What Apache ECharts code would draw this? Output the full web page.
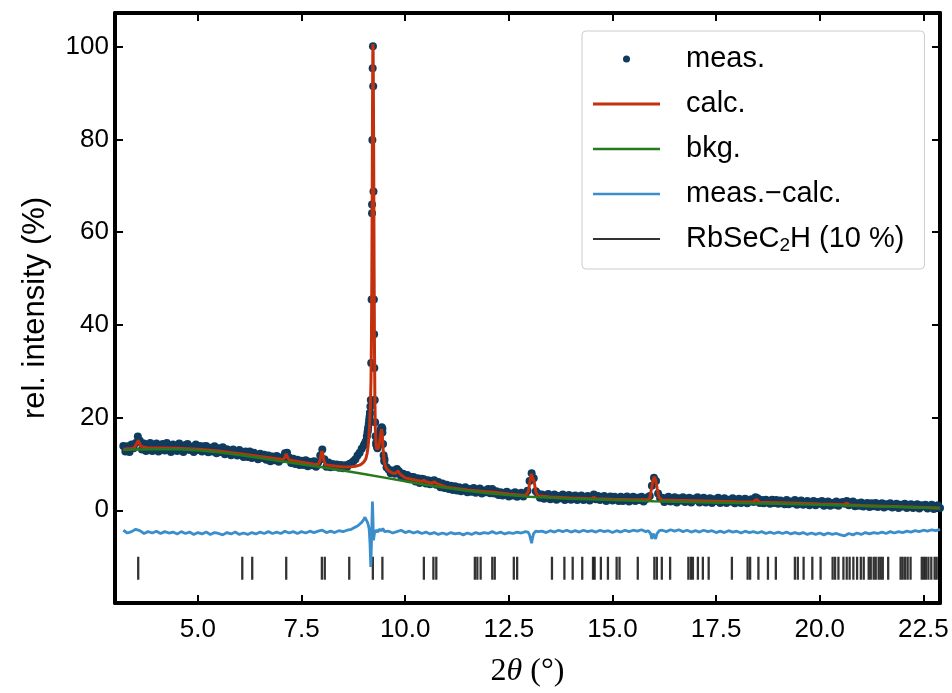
<!DOCTYPE html>
<html><head><meta charset="utf-8">
<script src="https://cdn.jsdelivr.net/npm/echarts@6/dist/echarts.min.js"></script>
<style>html,body{margin:0;padding:0;background:#fff}#c{width:952px;height:693px}</style>
</head><body><div id="c"></div>
<script>
// ---- measured profile: regular grid 3.20 .. 22.90 step 0.05 ----
const measStart = 3.2, measStep = 0.05;
const measY = [
 13.9,12.7,13.8,12.6,14.2,13.4,14.5,15.9,15.0,13.1,14.4,12.8,14.1,14.5,12.8,13.8,14.4,12.7,13.9,14.3,
 12.9,14.5,13.5,12.6,14.2,13.8,12.8,14.4,13.4,12.6,14.1,14.3,13.0,13.7,12.6,14.2,13.0,13.9,12.7,13.8,
 13.9,12.5,13.5,12.7,13.8,12.3,13.4,12.6,13.6,12.1,13.2,12.5,11.9,13.1,12.4,11.8,13.0,12.1,11.5,12.7,
 11.5,12.7,11.3,12.4,11.9,11.0,12.2,11.3,12.0,10.9,11.8,10.6,11.6,10.8,11.7,10.5,11.4,11.0,12.3,12.4,
 11.4,10.2,11.1,10.0,10.9,9.8,10.7,9.8,10.8,9.5,10.5,9.7,10.6,9.4,10.3,11.8,13.1,11.0,9.4,10.3,
 9.3,10.0,9.4,9.9,9.2,9.8,9.1,9.7,9.4,10.0,10.2,10.6,11.0,11.8,12.4,13.3,14.0,14.9,17.2,21.0,
 66.0,38.0,14.2,14.4,16.6,17.6,11.0,9.3,8.8,8.0,8.6,7.9,8.9,8.4,7.4,7.9,7.0,7.6,6.7,7.2,
 7.2,6.2,6.9,5.9,6.8,6.7,5.8,6.5,5.6,6.4,6.5,5.5,6.1,5.0,5.8,4.8,5.5,4.6,5.3,4.4,
 5.2,4.3,5.0,4.1,4.7,5.0,3.9,4.6,4.0,4.8,3.8,4.4,4.7,3.6,4.3,3.9,4.6,3.7,4.6,3.6,
 4.1,3.3,3.9,3.2,3.7,4.0,3.0,3.6,3.2,3.9,2.9,3.5,3.8,3.0,3.5,4.2,6.3,8.0,6.9,4.1,
 3.6,2.7,3.4,2.5,3.0,3.5,2.4,2.9,3.4,2.3,3.1,2.6,3.4,2.2,2.8,3.3,2.3,3.0,3.2,2.2,
 2.9,3.2,2.2,2.7,3.1,2.1,2.9,3.4,2.4,3.1,2.2,2.8,3.1,2.0,2.6,3.0,2.1,2.9,2.4,2.0,
 2.9,2.0,2.6,3.0,1.9,2.5,2.9,2.0,2.7,2.2,2.9,1.9,2.4,2.8,3.1,5.3,7.0,6.3,3.6,2.6,
 2.7,1.8,2.5,2.9,1.9,2.3,2.8,1.7,2.6,2.1,2.8,1.8,2.3,2.7,1.7,2.5,2.2,2.8,1.7,2.4,
 2.7,1.7,2.2,2.6,1.6,2.4,2.0,2.7,1.6,2.2,2.6,1.6,2.3,1.9,2.6,1.5,2.1,2.5,1.6,2.3,
 2.5,1.5,2.1,2.4,1.8,2.8,2.6,1.6,2.2,1.5,2.3,1.9,1.4,2.3,1.6,2.2,1.4,2.1,1.7,1.3,
 2.2,1.3,1.9,1.5,2.2,1.2,1.8,2.1,1.2,1.7,2.0,1.1,1.6,2.0,1.1,1.8,1.4,2.0,1.0,1.7,
 1.9,1.0,1.6,1.2,1.9,1.0,1.5,1.8,1.4,2.0,1.1,1.6,1.9,0.9,1.5,1.0,1.7,0.8,1.4,1.6,
 0.7,1.5,0.9,1.6,0.7,1.2,1.5,0.6,1.3,0.9,1.5,0.6,1.1,1.4,0.5,1.2,0.8,1.4,0.5,1.1,
 1.3,0.5,1.0,1.3,0.4,1.1,0.8,1.2,0.4,0.9,1.2,0.3,0.9,1.1,0.5
];
// extra measured points read around the strong reflections at 9.2-9.5
const measFineX = [9.025,9.075,9.09,9.105,9.12,9.13,9.14,9.15,9.16,9.17,9.18,9.19,9.20,9.208,9.215,9.222,9.228,9.235,9.245,9.255,9.265,9.275,9.285,9.30,9.315,9.33,9.345,9.36,9.375,9.39,9.405,9.42,9.435,9.45,9.465,9.48,9.495];
const measFineY = [14.4,16.0,16.8,17.8,18.6,19.5,20.2,21.0,22.4,23.8,31.8,45.5,64.1,79.9,95.4,100.1,91.5,68.8,45.5,30.7,23.8,19.0,16.0,14.6,13.8,13.4,14.0,14.6,15.5,16.4,17.2,17.7,17.9,16.8,14.3,11.9,10.6];

// ---- calculated profile ----
const calcX = [3.20,3.30,3.40,3.46,3.50,3.53,3.56,3.59,3.62,3.66,3.80,4.00,4.50,5.00,5.50,6.00,6.50,7.00,7.06,7.10,7.13,7.16,7.20,7.50,7.80,7.90,7.94,7.97,7.99,8.01,8.04,8.08,8.30,8.50,8.70,8.80,8.90,8.95,9.00,9.05,9.08,9.10,9.12,9.14,9.16,9.175,9.185,9.195,9.205,9.212,9.218,9.222,9.226,9.232,9.240,9.250,9.260,9.270,9.280,9.295,9.310,9.330,9.360,9.390,9.415,9.430,9.445,9.465,9.490,9.520,9.560,9.620,9.700,9.770,9.800,9.830,9.860,9.920,10.00,10.20,10.40,10.45,10.50,10.65,10.70,10.75,11.00,11.50,12.00,12.06,12.10,12.14,12.50,12.80,12.92,12.97,13.01,13.04,13.06,13.08,13.11,13.15,13.20,13.50,14.00,14.50,14.55,14.60,15.00,15.50,15.85,15.90,15.94,15.98,16.01,16.04,16.08,16.12,16.18,16.50,17.00,17.50,18.00,18.40,18.47,18.54,19.00,19.50,20.00,20.58,20.65,20.72,21.00,21.50,22.00,22.50,22.90];
const calcY = [13.2,13.3,13.35,13.45,13.8,14.5,15.1,14.5,13.8,13.5,13.45,13.45,13.4,13.2,12.8,12.2,11.6,11.0,10.95,11.5,12.2,11.5,10.85,10.35,9.95,9.9,10.6,12.0,12.8,12.2,10.6,9.8,9.55,9.35,9.4,9.5,9.75,10.0,10.4,11.1,12.2,13.4,15.4,18.2,22.5,28,36,50,70,88,98,100.6,99.5,92,76,52,34,23,17.5,14.5,13.2,12.9,13.5,15.2,17.0,17.5,16.6,13.5,10.8,9.6,8.9,8.4,8.0,8.0,8.4,8.5,8.0,7.5,7.0,6.6,6.2,6.5,6.15,5.85,6.15,5.8,5.0,4.4,3.95,3.95,4.3,3.9,3.5,3.25,3.3,4.1,6.2,7.9,8.3,7.9,6.2,4.0,3.15,2.85,2.65,2.5,2.8,2.5,2.4,2.3,2.3,2.65,4.6,6.6,7.2,6.6,4.6,2.8,2.25,2.15,2.05,1.95,1.85,1.8,2.35,1.75,1.65,1.5,1.35,1.2,1.55,1.15,1.05,0.9,0.75,0.62,0.5];

// ---- background ----
const bkgX = [3.2,3.5,4.0,4.5,5.0,5.5,6.0,6.5,7.0,7.5,8.0,8.5,9.0,9.5,10.0,10.5,11.0,11.5,12.0,12.5,13.0,13.5,14.0,15.0,16.0,17.0,18.0,19.0,20.0,21.0,22.0,22.9];
const bkgY = [13.0,13.1,13.2,13.15,12.95,12.55,11.95,11.3,10.6,9.95,9.3,8.6,7.85,7.05,6.25,5.5,4.8,4.2,3.7,3.3,2.95,2.7,2.5,2.2,1.95,1.75,1.6,1.4,1.2,0.95,0.7,0.45];

// ---- difference curve: grid 3.2 .. 22.9 step 0.1 (null where fine points are used) ----
const diffStart = 3.2, diffStep = 0.1;
const diffY = [
 -4.3,-4.9,-4.6,-4.1,-4.4,-5.0,-4.6,-4.9,-4.5,-5.0,
 -4.6,-4.9,-4.7,-5.1,-4.6,-5.0,-4.7,-5.2,-4.8,-5.1,
 -4.7,-5.2,-4.8,-5.0,-5.3,-4.8,-5.1,-4.7,-5.2,-4.9,
 -5.2,-4.8,-5.1,-4.7,-5.0,-4.6,-5.0,-4.7,-5.0,-4.5,
 -4.9,-4.6,-5.0,-4.6,-4.9,-4.5,-4.8,-4.5,-4.3,-4.8,
 -4.5,-4.8,-4.4,-4.6,-4.3,-4.1,-3.6,null,null,null,
 null,null,null,null,-4.5,-4.9,-4.6,-4.3,-4.8,-4.5,
 -4.9,-4.6,-5.0,-4.7,-5.1,-4.8,-5.2,-4.9,-5.2,-4.8,
 -5.1,-4.9,-5.3,-4.9,-5.2,-4.8,-5.1,-4.8,-5.0,-4.6,
 -5.0,-4.7,-5.1,-4.8,-5.0,-4.7,-4.9,-4.6,null,null,
 -4.6,-4.5,-4.8,-4.4,-4.7,-4.3,-4.6,-4.3,-4.7,-4.4,
 -4.7,-4.3,-4.6,-4.4,-4.7,-4.3,-4.6,-4.4,-4.8,-4.4,
 -4.7,-4.3,-4.6,-4.3,-4.5,-4.2,-4.6,null,null,null,
 -4.3,-4.6,-4.2,-4.5,-4.2,-4.6,-4.3,-4.7,-4.4,-4.7,
 -4.3,-4.6,-4.4,-4.8,-4.5,-4.8,-4.4,-4.7,-4.5,-4.9,
 -4.5,-4.8,-4.6,-4.9,-4.6,-5.0,-4.7,-5.0,-4.7,-5.0,
 -4.7,-5.1,-4.8,-5.1,-4.8,-5.2,-4.9,-5.2,-4.9,-5.3,
 -4.9,-5.2,-5.0,-5.3,-5.5,-5.0,-5.3,-4.9,-5.2,-4.8,
 -5.1,-4.8,-5.0,-4.7,-5.0,-4.6,-4.9,-4.6,-4.8,-4.5,
 -4.7,-4.4,-4.6,-4.3,-4.5,-4.2,-4.4,-4.1
];
const diffFineX = [8.85,8.90,8.95,9.00,9.03,9.05,9.07,9.09,9.11,9.13,9.15,9.17,9.185,9.20,9.21,9.22,9.235,9.25,9.27,9.29,9.31,9.34,9.37,9.40,9.43,9.46,9.50,
  12.96,13.00,13.03,13.05,13.07,13.10,13.15,
  15.86,15.92,15.95,15.98,16.01,16.04,16.07,16.13];
const diffFineY = [-3.4,-3.0,-2.6,-2.0,-1.5,-1.1,-1.7,-2.6,-3.2,-4.0,-7.0,-12.2,-7.5,-1.5,1.9,-1.0,-6.5,-5.5,-4.3,-4.8,-4.2,-4.7,-4.1,-3.7,-4.4,-3.9,-4.6,
  -4.7,-5.3,-6.4,-7.1,-6.0,-5.0,-4.5,
  -4.4,-5.0,-6.2,-5.0,-5.1,-6.2,-5.1,-4.4];

// ---- reflection positions (2θ) ----
const reflections = [3.56,6.07,6.31,7.13,7.99,8.06,8.65,9.22,9.45,10.45,10.68,10.75,11.68,11.74,11.82,12.10,12.16,12.62,12.70,13.54,13.84,14.04,14.27,14.53,14.57,14.72,14.89,15.10,15.17,15.61,16.01,16.07,16.19,16.39,16.83,16.89,16.94,17.06,17.18,17.32,17.88,18.26,18.32,18.52,18.75,18.94,19.40,19.47,19.61,19.82,20.02,20.31,20.37,20.45,20.57,20.65,20.72,20.81,20.90,20.99,21.06,21.18,21.23,21.30,21.35,21.42,21.47,21.52,21.65,21.95,22.00,22.06,22.12,22.19,22.46,22.51,22.56,22.62,22.69,22.77,22.82];
const reflectionLevel = -12.5;

const xTickValues = [5, 7.5, 10, 12.5, 15, 17.5, 20, 22.5];
const yTickValues = [0, 20, 40, 60, 80, 100];

const seriesNames = ['meas.', 'calc.', 'bkg.', 'meas.\u2212calc.', 'RbSeC2H (10 %)'];

// ---- build ----
const FONT = 'Liberation Sans';
const meas = measY.map((y, i) => [+(measStart + i * measStep).toFixed(3), y])
  .concat(measFineX.map((x, i) => [x, measFineY[i]]));
const calc = calcX.map((x, i) => [x, calcY[i]]);
const bkg = bkgX.map((x, i) => [x, bkgY[i]]);
const diff = diffY.map((y, i) => y == null ? null : [+(diffStart + i * diffStep).toFixed(2), y])
  .filter(Boolean)
  .concat(diffFineX.map((x, i) => [x, diffFineY[i]]))
  .sort((a, b) => a[0] - b[0]);
const ticks = reflections.map(x => [x, reflectionLevel]);

const frame = { show: true, onZero: false, lineStyle: { color: '#000', width: 4 } };
const tickStyle = { show: true, inside: true, length: 8, lineStyle: { color: '#000', width: 2 } };
const lineIcon = w => 'path://M0,0H67V' + w + 'H0Z';

const chart = echarts.init(document.getElementById('c'), null, { renderer: 'canvas' });
chart.setOption({
  animation: false,
  backgroundColor: '#fff',
  grid: { left: 115, right: 12, top: 13, bottom: 87, containLabel: false },
  xAxis: [
    { type: 'value', position: 'bottom', min: 3.0, max: 22.9,
      axisLine: frame,
      axisTick: Object.assign({ customValues: xTickValues }, tickStyle),
      axisLabel: { customValues: xTickValues, formatter: v => v.toFixed(1), fontFamily: FONT, fontSize: 26, color: '#000', margin: 14 },
      splitLine: { show: false },
      name: '2{i|\u03B8} (\u00B0)', nameLocation: 'middle', nameGap: 53,
      nameTextStyle: { fontFamily: 'Liberation Serif', fontSize: 32, color: '#000', rich: { i: { fontFamily: 'Liberation Serif', fontStyle: 'italic', fontSize: 32, color: '#000' } } } },
    { type: 'value', position: 'top', min: 3.0, max: 22.9,
      axisLine: frame,
      axisTick: Object.assign({ customValues: xTickValues }, tickStyle),
      axisLabel: { show: false }, splitLine: { show: false } }
  ],
  yAxis: [
    { type: 'value', position: 'left', min: -20, max: 107.3,
      axisLine: frame,
      axisTick: Object.assign({ customValues: yTickValues }, tickStyle),
      axisLabel: { customValues: yTickValues, fontFamily: FONT, fontSize: 26, color: '#000', margin: 6 },
      splitLine: { show: false },
      name: 'rel. intensity (%)', nameLocation: 'middle', nameGap: 64,
      nameTextStyle: { fontFamily: FONT, fontSize: 31, color: '#000' } },
    { type: 'value', position: 'right', min: -20, max: 107.3,
      axisLine: frame,
      axisTick: Object.assign({ customValues: yTickValues }, tickStyle),
      axisLabel: { show: false }, splitLine: { show: false } }
  ],
  legend: {
    orient: 'vertical', left: 582, top: 31, z: 20,
    padding: [12, 20, 14, 11],
    itemWidth: 67, itemHeight: 7, itemGap: 13,
    backgroundColor: 'rgba(255,255,255,0.85)', borderColor: '#cccccc', borderWidth: 1, borderRadius: 4,
    selectedMode: false,
    data: [
      { name: seriesNames[0], icon: 'circle' },
      { name: seriesNames[1], icon: lineIcon(3) },
      { name: seriesNames[2], icon: lineIcon(2.6) },
      { name: seriesNames[3], icon: lineIcon(2.6) },
      { name: seriesNames[4], icon: lineIcon(2) }
    ],
    formatter: n => n === seriesNames[4] ? '{t|RbSeC}{s|2}{t|H (10 %)}' : n,
    textStyle: { fontFamily: FONT, fontSize: 29, color: '#000', lineHeight: 32, padding: [0, 0, 0, 21],
      rich: { t: { fontFamily: FONT, fontSize: 29, color: '#000', lineHeight: 32 },
              s: { fontFamily: FONT, fontSize: 19, color: '#000', lineHeight: 20, verticalAlign: 'bottom' } } }
  },
  series: [
    { name: seriesNames[0], type: 'scatter', data: meas, symbolSize: 8, z: 2,
      itemStyle: { color: '#0f3b5e', opacity: 1 } },
    { name: seriesNames[1], type: 'line', data: calc, symbol: 'none', showSymbol: false, z: 3,
      lineStyle: { color: '#c3300c', width: 3 }, itemStyle: { color: '#c3300c' } },
    { name: seriesNames[2], type: 'line', data: bkg, symbol: 'none', showSymbol: false, z: 4,
      lineStyle: { color: '#267a1d', width: 2.5 }, itemStyle: { color: '#267a1d' } },
    { name: seriesNames[4], type: 'scatter', data: ticks, symbol: 'rect', symbolSize: [2.3, 23], z: 5,
      itemStyle: { color: '#000' } },
    { name: seriesNames[3], type: 'line', data: diff, symbol: 'none', showSymbol: false, z: 6,
      lineStyle: { color: '#3a8ecb', width: 2.8 }, itemStyle: { color: '#3a8ecb' } }
  ]
});
</script>
</body></html>
